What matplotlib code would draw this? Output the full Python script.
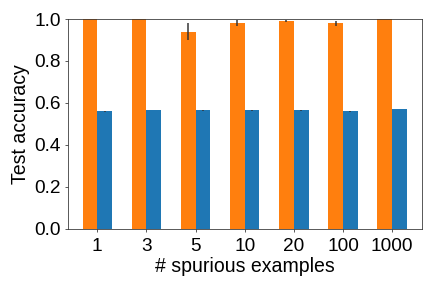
import numpy as np
import matplotlib
matplotlib.use("Agg")
import matplotlib.pyplot as plt

plt.rcParams["font.family"] = ["Liberation Sans", "DejaVu Sans"]

categories = ["1", "3", "5", "10", "20", "100", "1000"]
orange_vals = [1.0, 1.0, 0.94, 0.981, 0.99, 0.98, 1.0]
orange_err = [0.0, 0.0, 0.042, 0.016, 0.005, 0.012, 0.0]
blue_vals = [0.561, 0.566, 0.566, 0.566, 0.566, 0.561, 0.571]
blue_err = [0.002, 0.0, 0.002, 0.002, 0.002, 0.002, 0.002]

x = np.arange(len(categories))
w = 0.3

fig, ax = plt.subplots(figsize=(6, 4), dpi=72)
ax.bar(x - w / 2, orange_vals, w, yerr=orange_err, color="#ff7f0e",
       ecolor="#333333", error_kw={"elinewidth": 1.5})
ax.bar(x + w / 2, blue_vals, w, yerr=blue_err, color="#1f77b4",
       ecolor="#333333", error_kw={"elinewidth": 1.5})

ax.set_ylim(0, 1.0)
ax.set_xlim(-0.6, len(categories) - 0.4)
ax.set_xticks(x)
ax.set_xticklabels(categories)
ax.set_yticks([0.0, 0.2, 0.4, 0.6, 0.8, 1.0])
ax.tick_params(axis="x", length=3, labelsize=19, pad=6, color="#333333")
ax.tick_params(axis="y", labelsize=19, length=3.5, color="#333333")
for s in ax.spines.values():
    s.set_color("#333333")
ax.set_xlabel("# spurious examples", fontsize=19.5, labelpad=2)
ax.set_ylabel("Test accuracy", fontsize=19.5, labelpad=4)

plt.subplots_adjust(left=0.157, right=0.976, top=0.934, bottom=0.205)
plt.savefig("out.png", dpi=72)
